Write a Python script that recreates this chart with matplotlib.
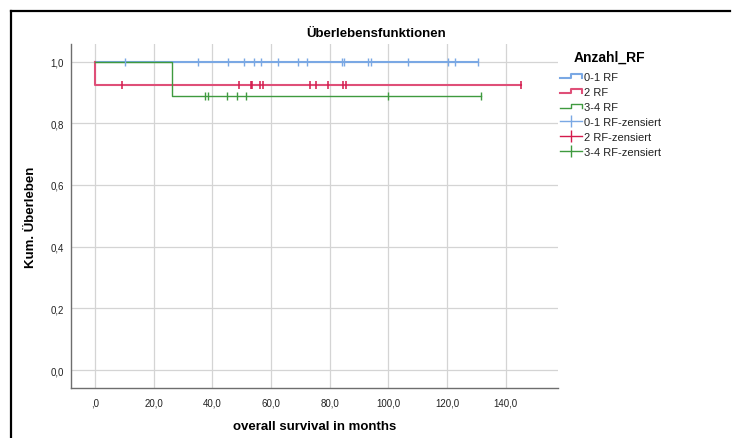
import numpy as np
import matplotlib
matplotlib.use('Agg')
import matplotlib.pyplot as plt
from matplotlib.lines import Line2D
from matplotlib.legend_handler import HandlerBase
from matplotlib.ticker import FuncFormatter

plt.rcParams['font.family'] = ['Liberation Sans', 'DejaVu Sans']

# step curves (time, cumulative survival)
rf01_time = [0.0, 130.5]
rf01_surv = [1.0, 1.0]
rf2_time = [0.0, 0.0, 145.3]
rf2_surv = [1.0, 0.923, 0.923]
rf34_time = [0.0, 26.4, 131.4]
rf34_surv = [1.0, 0.889, 0.889]

# censored observations
rf01_cens = [10.3, 35.1, 45.4, 50.8, 54.1, 56.6, 62.2, 69.3, 72.4, 84.2, 84.9,
             93.2, 94.0, 106.8, 120.2, 122.8, 130.5]
rf2_cens = [9.3, 49.0, 53.2, 53.6, 56.2, 57.2, 73.3, 75.2, 79.5, 84.5, 85.5, 145.3]
rf34_cens = [37.6, 38.4, 45.0, 48.5, 51.5, 99.7, 131.4]

labels = ['0-1 RF', '2 RF', '3-4 RF']
x_ticks = [0, 20, 40, 60, 80, 100, 120, 140]
y_ticks = [0.0, 0.2, 0.4, 0.6, 0.8, 1.0]

c_blue = '#7aa8e4'
c_red = '#df4f78'
c_red_mark = '#d41a4c'
c_green = '#3f9a3f'


def surv_at(times, survs, t):
	idx = np.searchsorted(times, t, side='right') - 1
	return np.asarray(survs)[idx]


class HandlerStep(HandlerBase):
	def create_artists(self, legend, orig_handle, xdescent, ydescent, width, height, fontsize, trans):
		x0 = -xdescent
		y0 = -ydescent
		xs = [x0, x0 + width * 0.5, x0 + width * 0.5, x0 + width, x0 + width]
		ys = [y0 + height * 0.2, y0 + height * 0.2, y0 + height * 0.8, y0 + height * 0.8, y0 + height * 0.3]
		ln = Line2D(xs, ys, color=orig_handle.get_color(), lw=orig_handle.get_linewidth(), transform=trans)
		return [ln]


fig = plt.figure(figsize=(7.34, 4.39), dpi=100)
ax = fig.add_axes([0.0967, 0.1146, 0.6635, 0.7829])

l1, = ax.plot(rf01_time, rf01_surv, drawstyle='steps-post', color=c_blue, lw=1.5, zorder=3)
l2, = ax.plot(rf2_time, rf2_surv, drawstyle='steps-post', color=c_red, lw=1.5, zorder=3)
l3, = ax.plot(rf34_time, rf34_surv, drawstyle='steps-post', color=c_green, lw=1.0, zorder=3)

m1, = ax.plot(rf01_cens, surv_at(rf01_time, rf01_surv, rf01_cens), ls='none', marker='|',
	ms=6, mew=1.0, color=c_blue, zorder=4)
m2, = ax.plot(rf2_cens, surv_at(rf2_time, rf2_surv, rf2_cens), ls='none', marker='|',
	ms=6, mew=1.1, color=c_red_mark, zorder=4)
m3, = ax.plot(rf34_cens, surv_at(rf34_time, rf34_surv, rf34_cens), ls='none', marker='|',
	ms=6, mew=1.0, color=c_green, zorder=4)

ax.set_xlim(-8.2, 157.8)
ax.set_ylim(-0.057, 1.057)
ax.set_xticks(x_ticks)
ax.set_yticks(y_ticks)
ax.xaxis.set_major_formatter(FuncFormatter(lambda v, p: ',0' if v == 0 else ('%.1f' % v).replace('.', ',')))
ax.yaxis.set_major_formatter(FuncFormatter(lambda v, p: ('%.1f' % v).replace('.', ',')))
ax.tick_params(length=0, labelsize=7, colors='#222222', pad=7)
ax.tick_params(axis='y', pad=5)
ax.grid(True, color='#d4d4d4', lw=0.9)
ax.set_axisbelow(True)
for s in ['top', 'right']:
	ax.spines[s].set_visible(False)
for s in ['left', 'bottom']:
	ax.spines[s].set_color('#6e6e6e')
	ax.spines[s].set_linewidth(1.0)

ax.set_xlabel('overall survival in months', fontsize=9.5, fontweight='bold', labelpad=9)
ax.set_ylabel('Kum. Überleben', fontsize=9.5, fontweight='bold', labelpad=10)
fig.text(376 / 734, 1 - 34 / 439, 'Überlebensfunktionen', ha='center', va='center',
	fontsize=9.5, fontweight='bold')

# legend
fig.text(574 / 734, 1 - 57.7 / 439, 'Anzahl_RF', ha='left', va='center', fontsize=10, fontweight='bold')
cens_handles = [Line2D([], [], color=c, lw=1.0, marker='|', ms=9, mew=1.0) for c in (c_blue, c_red_mark, c_green)]
leg = fig.legend([l1, l2, l3] + cens_handles,
	labels + [lb + '-zensiert' for lb in labels],
	handler_map={l1: HandlerStep(), l2: HandlerStep(), l3: HandlerStep()},
	loc='upper left', bbox_to_anchor=(560 / 734, 1 - 73 / 439), frameon=False,
	fontsize=8, handlelength=2.0, handletextpad=0.15, labelspacing=0.45, numpoints=1,
	borderpad=0, borderaxespad=0)
for t in leg.get_texts():
	t.set_color('#222222')

# outer frame
fig.add_artist(Line2D([11 / 734, 11 / 734], [0, 1 - 12 / 439], color='black', lw=1.6, transform=fig.transFigure))
fig.add_artist(Line2D([11 / 734, 730 / 734], [1 - 12 / 439, 1 - 12 / 439], color='black', lw=1.6, transform=fig.transFigure))

fig.savefig('out.png', dpi=100)
